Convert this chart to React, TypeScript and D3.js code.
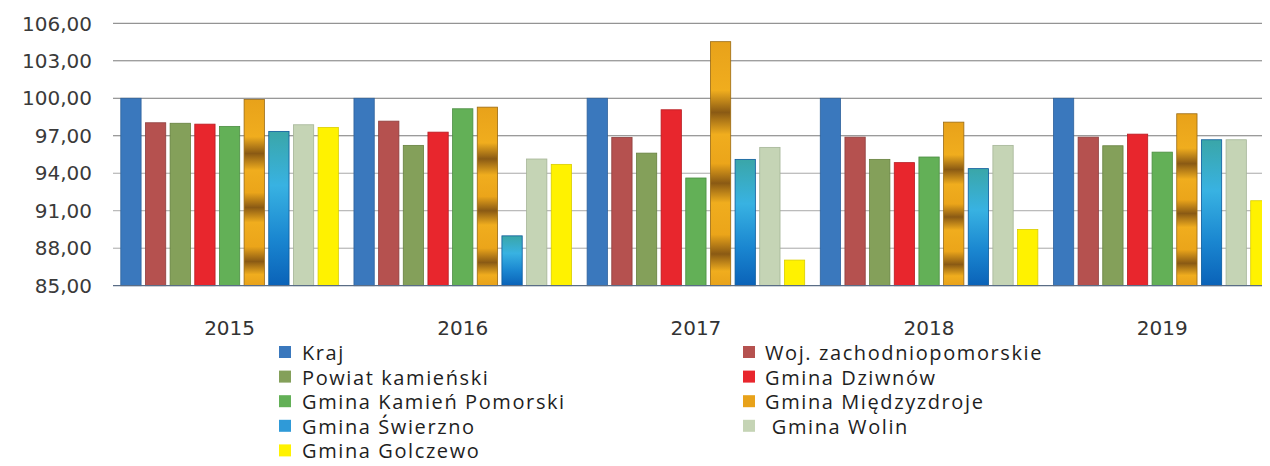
import { useRef, useEffect } from "react";
import * as d3 from "d3";

const years = ["2015", "2016", "2017", "2018", "2019"];
const seriesNames = [
  "Kraj",
  "Woj. zachodniopomorskie",
  "Powiat kamieński",
  "Gmina Dziwnów",
  "Gmina Kamień Pomorski",
  "Gmina Międzyzdroje",
  "Gmina Świerzno",
  " Gmina Wolin",
  "Gmina Golczewo",
];
// one array per series, values per year 2015..2019
const kraj = [100, 100, 100, 100, 100];
const woj = [98.04, 98.17, 96.87, 96.89, 96.89];
const powiat = [98.0, 96.23, 95.61, 95.11, 96.2];
const dziwnow = [97.93, 97.29, 99.08, 94.85, 97.13];
const kamien = [97.75, 99.16, 93.62, 95.3, 95.69];
const miedzyzdroje = [99.9, 99.29, 104.53, 98.09, 98.76];
const swierzno = [97.35, 88.99, 95.11, 94.37, 96.68];
const wolin = [97.88, 95.14, 96.07, 96.23, 96.68];
const golczewo = [97.67, 94.71, 87.05, 89.5, 91.8];
const seriesValues = [kraj, woj, powiat, dziwnow, kamien, miedzyzdroje, swierzno, wolin, golczewo];
const yTicks = [85, 88, 91, 94, 97, 100, 103, 106];

const fills = [
  "#3a78bd",
  "#b5514f",
  "#84a05a",
  "#e8262d",
  "#63b057",
  "url(#gradOrange)",
  "url(#gradBlue)",
  "#c5d4b5",
  "#fff200",
];
const strokes = ["#2f629c", "#8e3e3d", "#66803f", "#b81c22", "#4b8d42", "#9a6a12", "#0b5a9c", "#a5b597", "#d9cd00"];
const swatch = ["#3a78bd", "#b5514f", "#84a05a", "#e8262d", "#63b057", "#e8a21a", "#2f9ad8", "#c5d4b5", "#fff200"];

export default function App() {
  const svgRef = useRef<SVGSVGElement>(null);

  useEffect(() => {
    const w = 1270;
    const h = 466;
    const svg = d3.select(svgRef.current).attr("width", w).attr("height", h);
    svg.selectAll("*").remove();

    const defs = svg.append("defs");
    const go = defs.append("linearGradient").attr("id", "gradOrange").attr("x1", 0).attr("y1", 0).attr("x2", 0).attr("y2", 1);
    [
      [0, "#e8a21a"], [0.2, "#f0ad1e"], [0.29, "#8a5a14"], [0.38, "#f0ad1e"], [0.5, "#eba51a"],
      [0.58, "#8a5a14"], [0.66, "#f0ad1e"], [0.79, "#eba51a"], [0.87, "#8a5a14"], [0.94, "#f0ad1e"], [1, "#e8a21a"],
    ].forEach(([o, c]) => go.append("stop").attr("offset", o as number).attr("stop-color", c as string));
    const gb = defs.append("linearGradient").attr("id", "gradBlue").attr("x1", 0).attr("y1", 0).attr("x2", 0).attr("y2", 1);
    [
      [0, "#3aa6a8"], [0.35, "#38b2e2"], [0.7, "#1a86d0"], [1, "#0a62b8"],
    ].forEach(([o, c]) => gb.append("stop").attr("offset", o as number).attr("stop-color", c as string));

    // left frame line
    svg.append("line").attr("x1", 7.5).attr("x2", 7.5).attr("y1", 0).attr("y2", h).attr("stroke", "#c4c4c4");

    const x0 = d3.scaleBand().domain(years).range([113, 1278.8]).padding(0);
    const x1 = d3
      .scaleBand()
      .domain(seriesNames)
      .range([0, x0.bandwidth()])
      .paddingInner(0.177)
      .paddingOuter(0.316);
    const y = d3.scaleLinear().domain([85, 106]).range([285.7, 23.3]);

    // grid
    svg
      .append("g")
      .selectAll("line")
      .data(yTicks.slice(1))
      .join("line")
      .attr("x1", 113)
      .attr("x2", w)
      .attr("y1", (d) => y(d))
      .attr("y2", (d) => y(d))
      .attr("stroke", (d) => (d >= 97 ? "#7a7a7a" : "#a8a8a8"))
      .attr("stroke-width", 1);

    // y labels
    svg
      .append("g")
      .selectAll("text")
      .data(yTicks)
      .join("text")
      .attr("x", 92)
      .attr("y", (d) => y(d))
      .attr("dy", "0.36em")
      .attr("text-anchor", "end")
      .attr("font-family", "DejaVu Sans")
      .attr("font-size", 20)
      .attr("fill", "#3a3a3a")
      .text((d) => d3.format(".2f")(d).replace(".", ","));

    // bars
    const groups = svg
      .append("g")
      .selectAll("g")
      .data(years)
      .join("g")
      .attr("transform", (d) => `translate(${x0(d)},0)`);
    groups
      .selectAll("rect")
      .data((yr, yi) => seriesNames.map((s, si) => ({ s, si, v: seriesValues[si][yi] })))
      .join("rect")
      .attr("x", (d) => x1(d.s)!)
      .attr("y", (d) => y(d.v))
      .attr("width", x1.bandwidth())
      .attr("height", (d) => y(85) - y(d.v))
      .attr("fill", (d) => fills[d.si])
      .attr("stroke", (d) => strokes[d.si])
      .attr("stroke-width", 0.8);

    // baseline
    svg
      .append("line")
      .attr("x1", 113)
      .attr("x2", w)
      .attr("y1", y(85))
      .attr("y2", y(85))
      .attr("stroke", "#5a6d86")
      .attr("stroke-width", 1.2);

    // x labels
    svg
      .append("g")
      .selectAll("text")
      .data(years)
      .join("text")
      .attr("x", (d) => x0(d)! + x0.bandwidth() / 2)
      .attr("y", 335)
      .attr("text-anchor", "middle")
      .attr("font-family", "DejaVu Sans")
      .attr("font-size", 20)
      .attr("fill", "#333")
      .text((d) => d);

    // legend
    const rowY = (i: number) => 352 + i * 24.6;
    const legend = svg
      .append("g")
      .selectAll("g")
      .data(seriesNames)
      .join("g")
      .attr("transform", (d, i) => {
        const col = i % 2;
        const row = Math.floor(i / 2);
        return `translate(${col === 0 ? 279 : 743},${rowY(row)})`;
      });
    legend
      .append("rect")
      .attr("x", 0)
      .attr("y", -6)
      .attr("width", 12)
      .attr("height", 12)
      .attr("fill", (d, i) => swatch[i]);
    legend
      .append("text")
      .attr("x", (d, i) => (i % 2 === 0 ? 23 : 22))
      .attr("y", 8)
      .attr("font-family", "Open Sans")
      .attr("font-size", 20)
      .attr("letter-spacing", 1.6)
      .attr("fill", "#1e1e1e")
      .style("white-space", "pre")
      .text((d) => d);
  }, []);

  return (
    <div style={{ margin: -8 }}>
      <svg ref={svgRef} style={{ display: "block" }}></svg>
    </div>
  );
}
